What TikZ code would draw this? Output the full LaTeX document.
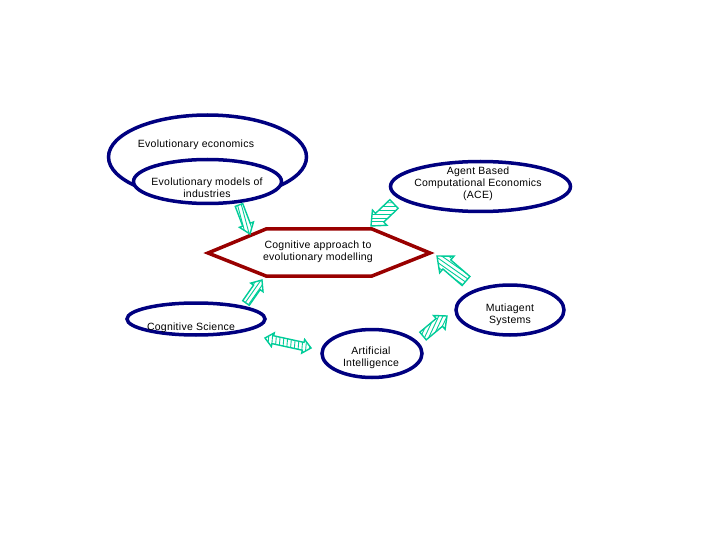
\documentclass[tikz,border=0pt]{standalone}
\usepackage{fontspec}
\setmainfont{Liberation Sans}[LetterSpace=2.5]
\definecolor{navyc}{RGB}{0,0,128}
\definecolor{hexred}{RGB}{153,0,0}
\definecolor{agreen}{RGB}{0,204,153}
\tikzset{
  ell/.style={draw=navyc, line width=3.5pt, ellipse, fill=white, inner sep=0pt},
  lbl/.style={align=center, font=\fontsize{10.5}{12}\selectfont, inner sep=0pt},
  arrowline/.style={draw=agreen, line width=1.4pt, line join=miter},
  stripe/.style={draw=agreen, line width=0.9pt},
}
\usetikzlibrary{shapes.geometric}
% #1 tail, #2 tip, #3 shaft half width, #4 head half width, #5 head length, #6 stripe angle, #7 double (1) or single (0)
\newcommand\hatchArrow[7]{%
  \path (#1); \pgfgetlastxy{\arAx}{\arAy}%
  \path (#2); \pgfgetlastxy{\arBx}{\arBy}%
  \pgfmathsetmacro\arAng{atan2(\arBy-\arAy,\arBx-\arAx)}%
  \pgfmathsetmacro\arLen{veclen(\arBx-\arAx,\arBy-\arAy)}%
  \pgfmathsetmacro\arBase{\arLen-#5}%
  \pgfmathsetmacro\arStr{#6-\arAng}%
  \begin{scope}[shift={(#1)}, rotate=\arAng, x=1pt, y=1pt]
    \ifnum#7=1
      \def\arShape{(0,0) -- (#5,#4) -- (#5,#3) -- (\arBase,#3) -- (\arBase,#4) -- (\arLen,0) -- (\arBase,-#4) -- (\arBase,-#3) -- (#5,-#3) -- (#5,-#4) -- cycle}%
    \else
      \def\arShape{(0,-#3) -- (\arBase,-#3) -- (\arBase,-#4) -- (\arLen,0) -- (\arBase,#4) -- (\arBase,#3) -- (0,#3) -- cycle}%
    \fi
    \begin{scope}
      \clip \arShape;
      \foreach \d in {-60,-56.2,...,60} {
        \draw[stripe] (\arLen/2,0) ++(\arStr+90:\d) ++(\arStr:-70) -- ++(\arStr:140);
      }
    \end{scope}
    \draw[arrowline] \arShape;
  \end{scope}
}
\begin{document}
\begin{tikzpicture}[x=1pt, y=-1pt]
\useasboundingbox (0,0) rectangle (720,540);
\fill[white] (0,0) rectangle (720,540);

% ellipses
\node[ell, minimum width=198pt, minimum height=84pt] (evo) at (207.5,157) {};
\node[ell, minimum width=148pt, minimum height=44pt] (evomod) at (207.5,181.5) {};
\node[ell, minimum width=180pt, minimum height=50pt] (ace) at (480.5,186.5) {};
\node[ell, minimum width=138pt, minimum height=32pt] (cogsci) at (196,319) {};
\node[ell, minimum width=100pt, minimum height=48pt] (ai) at (372,353.5) {};
\node[ell, minimum width=108pt, minimum height=50pt] (mas) at (510,310) {};

% hexagon
\coordinate (h1) at (208,253);
\coordinate (h2) at (266,229);
\coordinate (h3) at (372,229);
\coordinate (h4) at (430,253);
\coordinate (h5) at (372,276);
\coordinate (h6) at (266,276);
\draw[hexred, line width=3.5pt, line join=miter] (h1) -- (h2) -- (h3) -- (h4) -- (h5) -- (h6) -- cycle;

% labels
\node[lbl] (tEvo) at (196,144.5) {Evolutionary economics};
\node[lbl] (tEvoMod) at (207,187.5) {Evolutionary models of\\industries};
\node[lbl] (tHex) at (318,252) {Cognitive approach to\\evolutionary modelling};
\node[lbl] (tAce) at (478,183.5) {Agent Based\\Computational Economics\\(ACE)};
\node[lbl] (tCog) at (191,327.5) {Cognitive Science};
\node[lbl] (tAi) at (371,357.5) {Artificial\\Intelligence};
\node[lbl] (tMas) at (510,315) {Mutiagent\\Systems};

% arrow end points
\coordinate (a1t) at (239,205);
\coordinate (a1h) at (250,234);
\coordinate (a2t) at (394,204);
\coordinate (a2h) at (371,226);
\coordinate (a3t) at (466,281);
\coordinate (a3h) at (437,256);
\coordinate (a4t) at (246,303);
\coordinate (a4h) at (262,280);
\coordinate (a5t) at (265,338);
\coordinate (a5h) at (311,348);
\coordinate (a6t) at (423,336);
\coordinate (a6h) at (447,316);

\hatchArrow{a1t}{a1h}{4}{7.5}{10}{-75}{0}
\hatchArrow{a2t}{a2h}{6}{10.5}{12}{0}{0}
\hatchArrow{a3t}{a3h}{6}{11}{13}{-35}{0}
\hatchArrow{a4t}{a4h}{4}{7.5}{9}{55}{0}
\hatchArrow{a5t}{a5h}{4}{7}{8}{85}{1}
\hatchArrow{a6t}{a6h}{5}{9}{10}{65}{0}
\end{tikzpicture}
\end{document}
